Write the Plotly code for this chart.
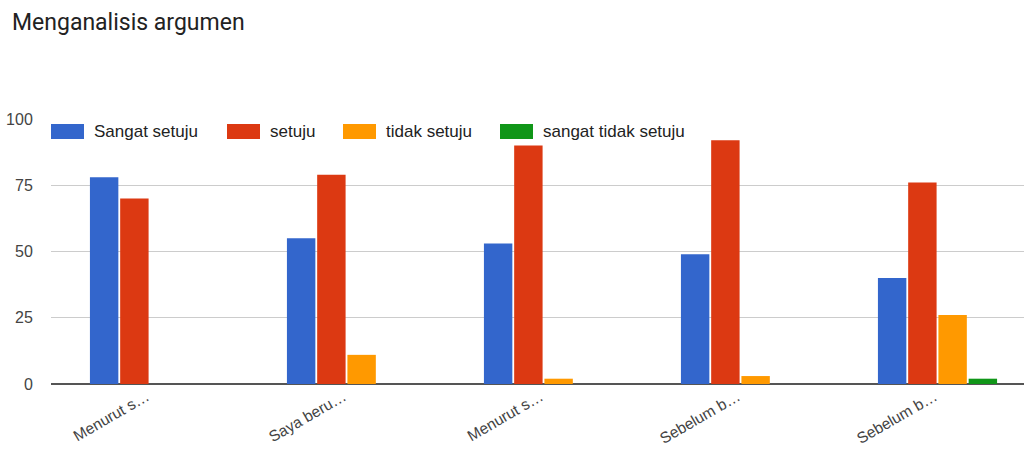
import plotly.graph_objects as go

# ---- data ----
categories = ["Menurut s…", "Saya beru…", "Menurut s…", "Sebelum b…", "Sebelum b…"]
series_names = ["Sangat setuju", "setuju", "tidak setuju", "sangat tidak setuju"]
sangat_setuju = [78, 55, 53, 49, 40]
setuju = [70, 79, 90, 92, 76]
tidak_setuju = [0, 11, 2, 3, 26]
sangat_tidak_setuju = [0, 0, 0, 0, 2]
colors = ["#3366cc", "#dc3912", "#ff9900", "#109618"]

values = [sangat_setuju, setuju, tidak_setuju, sangat_tidak_setuju]
x_pos = list(range(len(categories)))

fig = go.Figure()
for name, vals, col in zip(series_names, values, colors):
    fig.add_trace(go.Bar(x=x_pos, y=vals, name=name, marker_color=col,
                         marker_line_width=0, showlegend=False))

# plot area geometry (pixels)
W, H = 1024, 450
L, R, T, B = 51, 0, 119, 66
pw = W - L - R
ph = H - T - B

def px_x(p):
    return (p - L) / pw

def px_y(p):
    return (H - B - p) / ph

# custom legend (wide swatches like the original)
legend_swatch_x = [51, 227, 343, 500]
for sx, name, col in zip(legend_swatch_x, series_names, colors):
    fig.add_shape(type="rect", xref="paper", yref="paper",
                  x0=px_x(sx), x1=px_x(sx + 33), y0=px_y(139), y1=px_y(124),
                  fillcolor=col, line_width=0, layer="above")
    fig.add_annotation(xref="paper", yref="paper", x=px_x(sx + 41), y=px_y(131.5),
                       text=name, showarrow=False, xanchor="left", yanchor="middle",
                       font=dict(family="Arial", size=17, color="#222222"))

fig.update_layout(
    width=W, height=H,
    margin=dict(l=L, r=R, t=T, b=B, pad=0, autoexpand=False),
    paper_bgcolor="white", plot_bgcolor="white",
    barmode="group", bargap=0.386, bargroupgap=0.06,
    title=dict(text="Menganalisis argumen", xref="container", yref="container",
               x=12 / W, xanchor="left", y=1 - 22 / H, yanchor="middle",
               font=dict(family="Roboto", size=23, color="#222222")),
    xaxis=dict(tickmode="array", tickvals=x_pos, ticktext=categories,
               range=[-0.5, -0.5 + pw / 197.0], tickangle=-30,
               showgrid=False, zeroline=False, showline=False, ticks="",
               automargin=False,
               ticklabelstandoff=0, ticklabelshift=-3,
               tickfont=dict(family="Arial", size=15.5, color="#444444")),
    yaxis=dict(range=[0, 100], tickvals=[0, 25, 50, 75, 100],
               showgrid=True, gridcolor="#cccccc", gridwidth=1,
               zeroline=True, zerolinecolor="#555555", zerolinewidth=2,
               ticks="outside", ticklen=14, tickcolor="rgba(0,0,0,0)",
               automargin=False,
               tickfont=dict(family="Arial", size=16, color="#444444")),
    showlegend=False,
)

fig.write_html("out.html")
